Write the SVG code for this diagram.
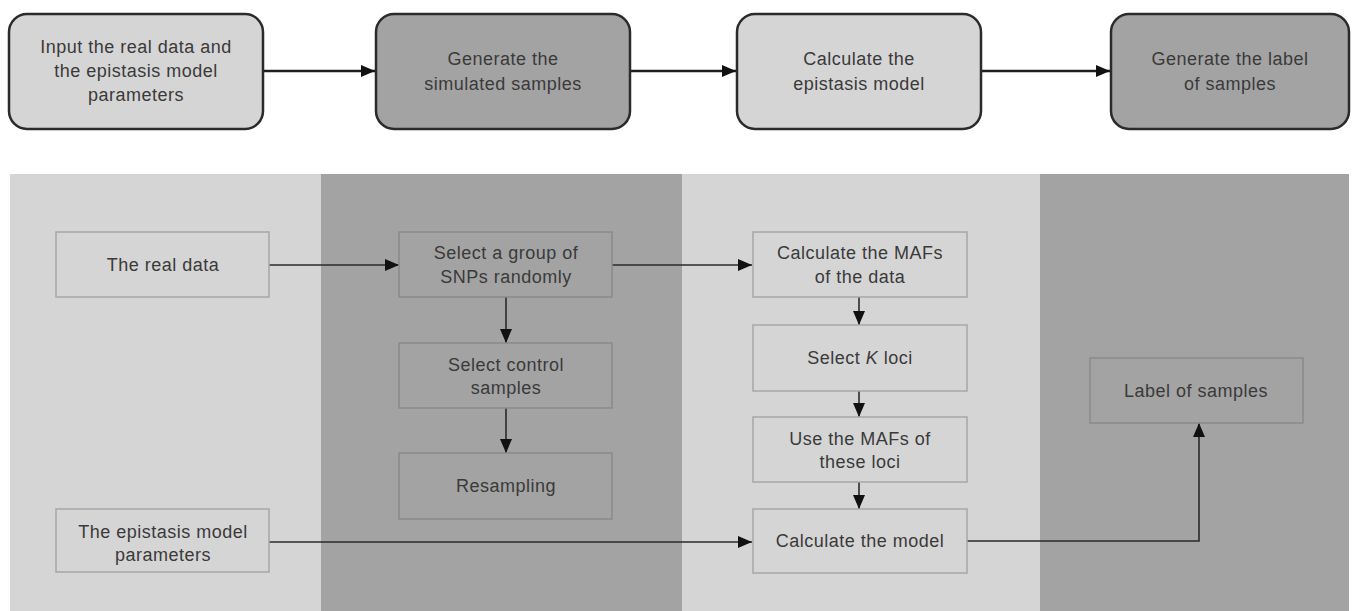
<svg xmlns="http://www.w3.org/2000/svg" width="1357" height="611" viewBox="0 0 1357 611">
<defs>
<style>
text{font-family:"Liberation Sans",Arial,sans-serif;font-size:18px;fill:#3a3a3a;text-anchor:middle;letter-spacing:0.5px}
.top{stroke:#2b2b2b;stroke-width:2.5}
.lt{fill:#d5d5d5}
.dk{fill:#a3a3a3}
.bl{fill:#d5d5d5;stroke:#a6a6a6;stroke-width:1.5}
.bd{fill:#a3a3a3;stroke:#8a8a8a;stroke-width:1.5}
.ct{fill:none;stroke:#1e1e1e;stroke-width:2.5}
.cb{fill:none;stroke:#2a2a2a;stroke-width:1.6}
</style>
<marker id="ah" viewBox="0 0 14 12" refX="14" refY="6" markerWidth="14" markerHeight="12" markerUnits="userSpaceOnUse" orient="auto">
<path d="M0,0 L14,6 L0,12 Z" fill="#111"/>
</marker>
</defs>
<rect width="1357" height="611" fill="#fff"/>
<g id="bands">
<rect class="lt" x="10" y="174" width="311" height="437"/>
<rect class="dk" x="321" y="174" width="361" height="437"/>
<rect class="lt" x="682" y="174" width="358" height="437"/>
<rect class="dk" x="1040" y="174" width="309" height="437"/>
</g>
<g id="connectors">
<line class="ct" x1="263" y1="71" x2="375" y2="71" marker-end="url(#ah)"/>
<line class="ct" x1="630" y1="71" x2="736" y2="71" marker-end="url(#ah)"/>
<line class="ct" x1="982" y1="71" x2="1110" y2="71" marker-end="url(#ah)"/>
<line class="cb" x1="269" y1="265" x2="399" y2="265" marker-end="url(#ah)"/>
<line class="cb" x1="612" y1="265" x2="752" y2="265" marker-end="url(#ah)"/>
<line class="cb" x1="506" y1="297" x2="506" y2="343" marker-end="url(#ah)"/>
<line class="cb" x1="506" y1="408" x2="506" y2="453" marker-end="url(#ah)"/>
<line class="cb" x1="859" y1="297" x2="859" y2="325" marker-end="url(#ah)"/>
<line class="cb" x1="859" y1="391" x2="859" y2="417" marker-end="url(#ah)"/>
<line class="cb" x1="859" y1="482" x2="859" y2="509" marker-end="url(#ah)"/>
<line class="cb" x1="269" y1="542" x2="752" y2="542" marker-end="url(#ah)"/>
<polyline class="cb" points="967,541 1199,541 1199,423" marker-end="url(#ah)"/>
</g>
<g id="n-input">
<rect class="top lt" x="9" y="14" width="254" height="115" rx="18"/>
<text x="136" y="53">Input the real data and</text>
<text x="136" y="77">the epistasis model</text>
<text x="136" y="101">parameters</text>
</g>
<g id="n-generate">
<rect class="top dk" x="376" y="14" width="254" height="115" rx="18"/>
<text x="503" y="65">Generate the</text>
<text x="503" y="90">simulated samples</text>
</g>
<g id="n-calc">
<rect class="top lt" x="737" y="14" width="244" height="115" rx="18"/>
<text x="859" y="65">Calculate the</text>
<text x="859" y="90">epistasis model</text>
</g>
<g id="n-label">
<rect class="top dk" x="1111" y="14" width="238" height="115" rx="18"/>
<text x="1230" y="65">Generate the label</text>
<text x="1230" y="90">of samples</text>
</g>
<g id="n-realdata">
<rect class="bl" x="56" y="232" width="213" height="65"/>
<text x="163" y="271">The real data</text>
</g>
<g id="n-snps">
<rect class="bd" x="399" y="232" width="213" height="65"/>
<text x="506" y="259">Select a group of</text>
<text x="506" y="283">SNPs randomly</text>
</g>
<g id="n-control">
<rect class="bd" x="399" y="343" width="213" height="65"/>
<text x="506" y="371">Select control</text>
<text x="506" y="394">samples</text>
</g>
<g id="n-resampling">
<rect class="bd" x="399" y="453" width="213" height="66"/>
<text x="506" y="492">Resampling</text>
</g>
<g id="n-params">
<rect class="bl" x="56" y="509" width="213" height="63"/>
<text x="163" y="538">The epistasis model</text>
<text x="163" y="561">parameters</text>
</g>
<g id="n-mafs">
<rect class="bl" x="753" y="232" width="214" height="65"/>
<text x="860" y="259">Calculate the MAFs</text>
<text x="860" y="283">of the data</text>
</g>
<g id="n-kloci">
<rect class="bl" x="753" y="325" width="214" height="66"/>
<text x="860" y="364">Select <tspan font-style="italic">K</tspan> loci</text>
</g>
<g id="n-usemafs">
<rect class="bl" x="753" y="417" width="214" height="65"/>
<text x="860" y="445">Use the MAFs of</text>
<text x="860" y="468">these loci</text>
</g>
<g id="n-model">
<rect class="bl" x="753" y="509" width="214" height="64"/>
<text x="860" y="547">Calculate the model</text>
</g>
<g id="n-labelsamples">
<rect class="bd" x="1090" y="358" width="213" height="65"/>
<text x="1196" y="397">Label of samples</text>
</g>
</svg>
